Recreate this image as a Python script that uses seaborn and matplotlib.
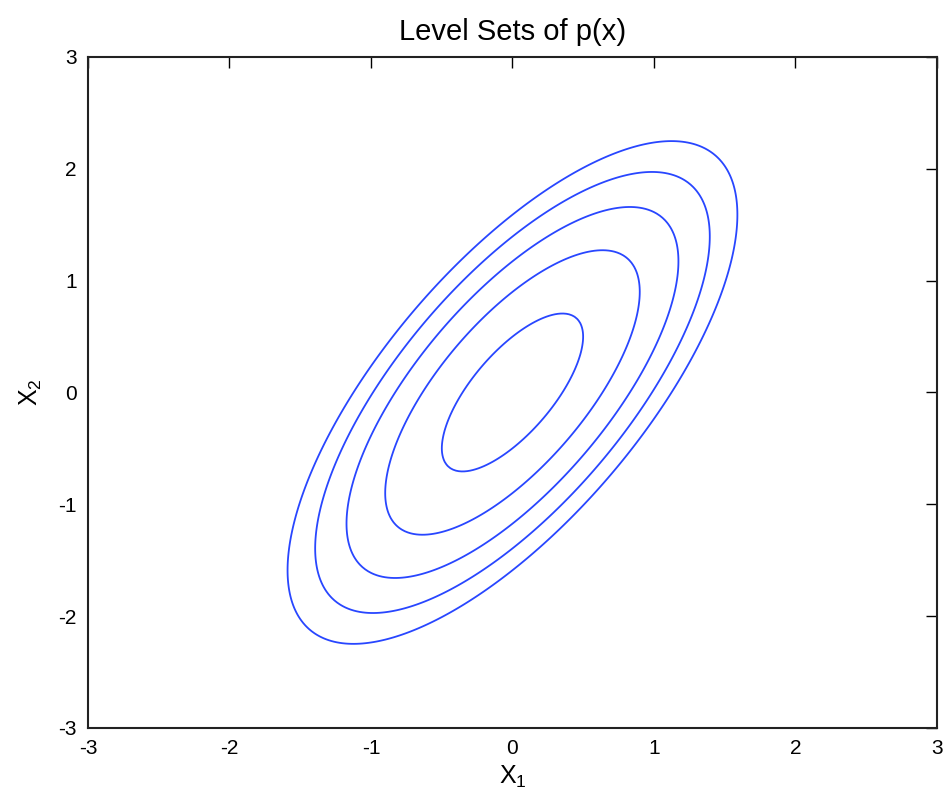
import numpy as np
import matplotlib
matplotlib.use("Agg")
import matplotlib.pyplot as plt
import seaborn as sns

# Gaussian p(x) parameters and the drawn level values
mean = [0.0, 0.0]
cov = [[1.0, 1.0], [1.0, 2.0]]
levels = [0.0450, 0.0602, 0.0800, 0.1062, 0.1405]
ticks = [-3, -2, -1, 0, 1, 2, 3]

sns.set_style("white")
plt.rcParams["font.family"] = ["Liberation Sans", "DejaVu Sans"]
plt.rcParams["mathtext.fontset"] = "custom"
plt.rcParams["mathtext.rm"] = "Liberation Sans"
plt.rcParams["axes.unicode_minus"] = False
plt.rcParams["text.color"] = "black"
plt.rcParams["axes.labelcolor"] = "black"

# evaluate the density on a grid
g = np.linspace(-3, 3, 301)
X1, X2 = np.meshgrid(g, g)
inv = np.linalg.inv(np.array(cov))
d1 = X1 - mean[0]
d2 = X2 - mean[1]
m = inv[0, 0] * d1 ** 2 + 2 * inv[0, 1] * d1 * d2 + inv[1, 1] * d2 ** 2
p = np.exp(-0.5 * m) / (2 * np.pi * np.sqrt(np.linalg.det(np.array(cov))))

fig = plt.figure(figsize=(9.43, 8.06), dpi=100)
ax = fig.add_axes([0.0933, 0.0968, 0.9003, 0.8325])
ax.contour(X1, X2, p, levels=levels, colors="#2846ff", linewidths=1.3)

ax.set_xlim(-3, 3)
ax.set_ylim(-3, 3)
ax.set_xticks(ticks)
ax.set_yticks(ticks)
ax.tick_params(direction="in", length=8, width=1, top=True, right=True,
               labelsize=15, colors="black", pad=8)
for s in ax.spines.values():
    s.set_visible(True)
    s.set_color("#222222")
    s.set_linewidth(1.5)

ax.set_title("Level Sets of p(x)", fontsize=21, pad=12, color="black")
ax.set_xlabel(r"$\mathregular{X_1}$", fontsize=18, labelpad=4)
ax.set_ylabel(r"$\mathregular{X_2}$", fontsize=18, labelpad=10)

fig.savefig("out.png", dpi=100, facecolor="white")
